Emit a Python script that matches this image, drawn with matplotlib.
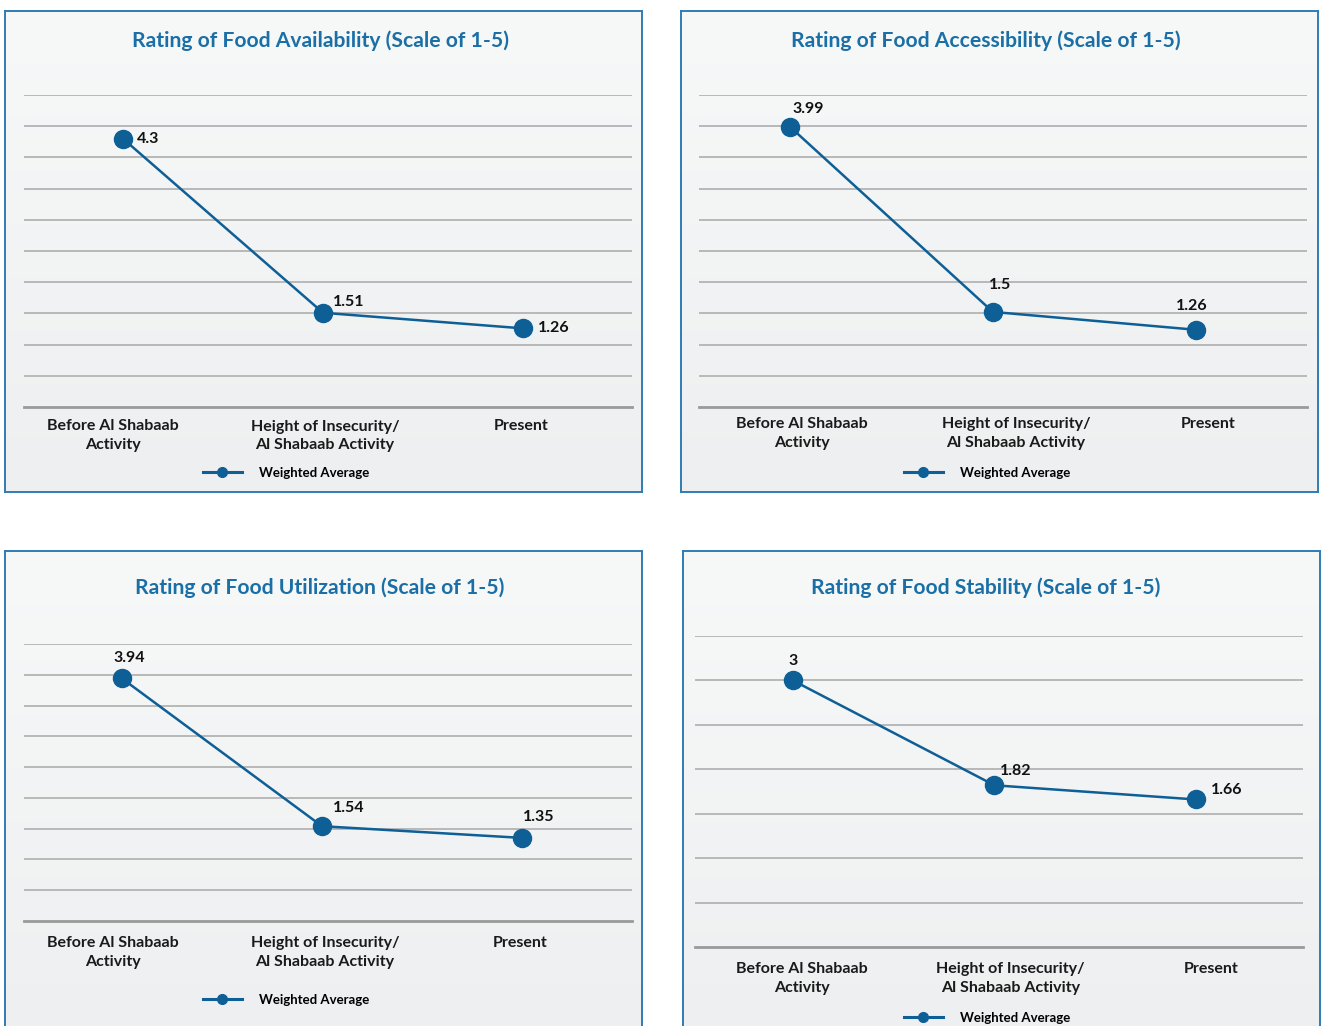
import numpy as np
import matplotlib
matplotlib.use("Agg")
import matplotlib.pyplot as plt
from matplotlib.lines import Line2D
from matplotlib.colors import LinearSegmentedColormap
from matplotlib.transforms import ScaledTranslation

plt.rcParams['font.family'] = ['Lato', 'DejaVu Sans']

# ---------------- data ----------------
categories = ["Before Al Shabaab\nActivity", "Height of Insecurity/\nAl Shabaab Activity", "Present"]
titles = ["Rating of Food Availability (Scale of 1-5)",
          "Rating of Food Accessibility (Scale of 1-5)",
          "Rating of Food Utilization (Scale of 1-5)",
          "Rating of Food Stability (Scale of 1-5)"]
availability = [4.3, 1.51, 1.26]
accessibility = [3.99, 1.5, 1.26]
utilization = [3.94, 1.54, 1.35]
stability = [3, 1.82, 1.66]
series_name = "Weighted Average"

# ---------------- layout / styles ----------------
W, H = 1323, 1026
DPI = 100
fig = plt.figure(figsize=(W / DPI, H / DPI), dpi=DPI)
fig.patch.set_facecolor("white")

def frac(x0, y0, x1, y1):
    return [x0 / W, 1 - y1 / H, (x1 - x0) / W, (y1 - y0) / H]

BLUE = "#0d5f96"
TITLE_C = "#1a6fa6"
BORDER_C = "#2f7cb3"
GRID_C = "#b3b3b3"
BASE_C = "#9a9a9a"

panels = [
    dict(data=availability, box=(5, 11, 642, 492), plot=(24, 95, 632, 407),
         xlim=(-0.495, 2.545), ylim=(0, 5), nlines=11, title_xy=(320, 41),
         leg_xy=(286, 473), pad=9, lab_dx=(-10, 2, -2),
         offsets=[(10, 0, 'left', 'center'), (7, 3, 'left', 'bottom'), (11, 0, 'left', 'center')]),
    dict(data=accessibility, box=(681, 11, 1318, 492), plot=(699, 95, 1307, 407),
         xlim=(-0.45, 2.55), ylim=(0.22, 4.42), nlines=11, title_xy=(986, 41),
         leg_xy=(987, 473), pad=7, lab_dx=(12, 23, 13),
         offsets=[(13, 8, 'center', 'bottom'), (5, 14, 'center', 'bottom'), (-3, 12, 'center', 'bottom')]),
    dict(data=utilization, box=(5, 551, 642, 1040), plot=(24, 644, 632, 921),
         xlim=(-0.49, 2.55), ylim=(0, 4.5), nlines=10, title_xy=(320, 588),
         leg_xy=(286, 1000), pad=11, lab_dx=(-9, 3, -2),
         offsets=[(5, 10, 'center', 'bottom'), (19, 8, 'center', 'bottom'), (12, 10, 'center', 'bottom')]),
    dict(data=stability, box=(683, 551, 1320, 1040), plot=(695, 636, 1303, 947),
         xlim=(-0.485, 2.53), ylim=(0, 3.5), nlines=8, title_xy=(986, 588),
         leg_xy=(987, 1018), pad=11, lab_dx=(9, 16, 15),
         offsets=[(0, 9, 'center', 'bottom'), (15, 5, 'center', 'bottom'), (11, 2, 'left', 'bottom')]),
]

cmap = LinearSegmentedColormap.from_list("bg", ["#eeeff0", "#f7f8f8"])
grad = np.linspace(0, 1, 256).reshape(-1, 1)

for i, p in enumerate(panels):
    bg = fig.add_axes(frac(*p["box"]), zorder=0)
    bg.imshow(grad, cmap=cmap, aspect="auto", extent=(0, 1, 0, 1), origin="lower")
    bg.set_xticks([]); bg.set_yticks([])
    for s in bg.spines.values():
        s.set_color(BORDER_C)
        s.set_linewidth(1.4)

    fig.text(p["title_xy"][0] / W, 1 - p["title_xy"][1] / H, titles[i],
             color=TITLE_C, fontsize=15.2, fontweight="bold",
             ha="center", va="center")

    ax = fig.add_axes(frac(*p["plot"]), zorder=2)
    ax.patch.set_alpha(0)
    x = np.arange(len(categories))
    ax.set_xlim(*p["xlim"])
    ax.set_ylim(*p["ylim"])
    ticks = np.linspace(p["ylim"][0], p["ylim"][1], p["nlines"])
    for t in ticks[1:]:
        ax.axhline(t, color=GRID_C, lw=1.3, zorder=1)
    for s in ["top", "right", "left"]:
        ax.spines[s].set_visible(False)
    ax.spines["bottom"].set_color(BASE_C)
    ax.spines["bottom"].set_linewidth(2)
    ax.set_yticks([])
    ax.set_xticks(x)
    ax.set_xticklabels(categories, fontsize=11.5, fontweight="bold", color="#1a1a1a",
                       linespacing=1.45)
    ax.tick_params(axis="x", length=0, pad=p["pad"])
    for lab, dx in zip(ax.get_xticklabels(), p["lab_dx"]):
        lab.set_transform(lab.get_transform() + ScaledTranslation(dx / DPI, 0, fig.dpi_scale_trans))

    ax.plot(x, p["data"], color=BLUE, lw=1.8, marker="o", markersize=13,
            zorder=3, clip_on=False)
    for xi, v, (dx, dy, ha, va) in zip(x, p["data"], p["offsets"]):
        ax.annotate(f"{v:g}", (xi, v), xytext=(dx, dy), textcoords="offset points",
                    ha=ha, va=va, fontsize=11.5, fontweight="bold", color="#111111",
                    zorder=4)

    handle = Line2D([], [], color=BLUE, lw=2.2, marker="o", markersize=7)
    ax.legend([handle], [series_name], loc="center",
              bbox_to_anchor=(p["leg_xy"][0] / W, 1 - p["leg_xy"][1] / H),
              bbox_transform=fig.transFigure, frameon=False,
              handlelength=3.0, handletextpad=1.3,
              prop=dict(size=9.5, weight="bold"))

fig.savefig("out.png", dpi=DPI)
